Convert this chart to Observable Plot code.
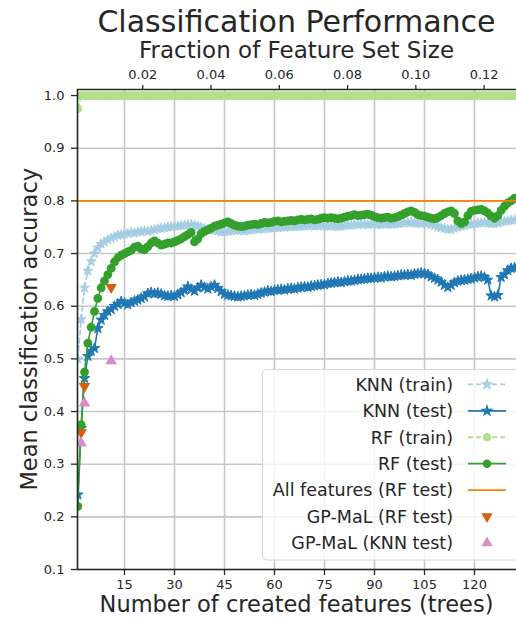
<!DOCTYPE html>
<html><head><meta charset="utf-8">
<script src="https://cdn.jsdelivr.net/npm/d3@7"></script>
<script src="https://cdn.jsdelivr.net/npm/@observablehq/plot@0.6"></script>
<style>
html,body{margin:0;padding:0;background:#fff;}
#fig{position:relative;width:516px;height:620px;overflow:hidden;font-family:"DejaVu Sans",sans-serif;color:#262626;background:#fff;}
.t{position:absolute;white-space:nowrap;line-height:1;}
#plot{position:absolute;left:0;top:62px;}
#legend{position:absolute;left:0;top:0;pointer-events:none;}
</style></head><body><div id="fig"></div>
<script>
// ---- chart data ----
const titleText = "Classification Performance";
const topAxisLabel = "Fraction of Feature Set Size";
const xAxisLabel = "Number of created features (trees)";
const yAxisLabel = "Mean classification accuracy";

const xTicks = [15, 30, 45, 60, 75, 90, 105, 120];
const yTicks = [0.1, 0.2, 0.3, 0.4, 0.5, 0.6, 0.7, 0.8, 0.9, 1.0];
const fracTicks = [0.02, 0.04, 0.06, 0.08, 0.10, 0.12];
const featureSetSize = 1024;
const xDomain = [0.9, 132.6];
const yDomain = [0.1, 1.0115];

const knnTrain = [
  0.500, 0.575, 0.635, 0.667, 0.685, 0.700, 0.711, 0.718, 0.722, 0.726,
  0.729, 0.732, 0.735, 0.736, 0.737, 0.738, 0.740, 0.739, 0.741, 0.742,
  0.743, 0.742, 0.744, 0.745, 0.747, 0.748, 0.749, 0.750, 0.751, 0.752,
  0.752, 0.753, 0.754, 0.755, 0.755, 0.754, 0.752, 0.750, 0.748, 0.746,
  0.745, 0.744, 0.743, 0.741, 0.741, 0.742, 0.743, 0.744, 0.744, 0.744,
  0.743, 0.744, 0.745, 0.746, 0.746, 0.747, 0.747, 0.748, 0.748, 0.749,
  0.749, 0.750, 0.750, 0.751, 0.751, 0.751, 0.752, 0.752, 0.752, 0.753,
  0.753, 0.752, 0.753, 0.753, 0.752, 0.752, 0.753, 0.752, 0.751, 0.752,
  0.753, 0.754, 0.754, 0.755, 0.755, 0.756, 0.756, 0.755, 0.756, 0.756,
  0.755, 0.755, 0.756, 0.756, 0.755, 0.756, 0.757, 0.758, 0.758, 0.759,
  0.759, 0.758, 0.758, 0.757, 0.758, 0.757, 0.755, 0.753, 0.751, 0.749,
  0.748, 0.746, 0.746, 0.748, 0.750, 0.752, 0.753, 0.755, 0.756, 0.757,
  0.758, 0.758, 0.759, 0.758, 0.757, 0.757, 0.758, 0.760, 0.761, 0.762,
  0.763, 0.764, 0.765, 0.765
];
const knnTest = [
  0.242, 0.368, 0.463, 0.505, 0.515, 0.520, 0.558, 0.574, 0.583, 0.590,
  0.594, 0.600, 0.604, 0.609, 0.606, 0.603, 0.607, 0.610, 0.612, 0.615,
  0.618, 0.624, 0.626, 0.624, 0.625, 0.623, 0.620, 0.619, 0.620, 0.619,
  0.622, 0.626, 0.630, 0.637, 0.632, 0.629, 0.635, 0.640, 0.636, 0.633,
  0.637, 0.640, 0.634, 0.628, 0.623, 0.621, 0.620, 0.619, 0.618, 0.619,
  0.620, 0.621, 0.622, 0.621, 0.623, 0.625, 0.627, 0.629, 0.628, 0.630,
  0.631, 0.632, 0.631, 0.633, 0.634, 0.633, 0.635, 0.636, 0.637, 0.636,
  0.638, 0.639, 0.640, 0.641, 0.641, 0.643, 0.644, 0.645, 0.646, 0.645,
  0.647, 0.648, 0.648, 0.649, 0.651, 0.651, 0.652, 0.653, 0.653, 0.654,
  0.655, 0.654, 0.656, 0.657, 0.656, 0.657, 0.658, 0.659, 0.659, 0.660,
  0.659, 0.661, 0.662, 0.663, 0.662, 0.660, 0.656, 0.653, 0.650, 0.646,
  0.640, 0.636, 0.640, 0.645, 0.648, 0.649, 0.650, 0.651, 0.652, 0.654,
  0.656, 0.657, 0.655, 0.650, 0.620, 0.618, 0.621, 0.655, 0.660, 0.668,
  0.672, 0.673, 0.674, 0.674
];
const rfTrain = [
  0.975, 1.0, 1.0, 1.0, 1.0, 1.0, 1.0, 1.0, 1.0, 1.0,
  1.0, 1.0, 1.0, 1.0, 1.0, 1.0, 1.0, 1.0, 1.0, 1.0,
  1.0, 1.0, 1.0, 1.0, 1.0, 1.0, 1.0, 1.0, 1.0, 1.0,
  1.0, 1.0, 1.0, 1.0, 1.0, 1.0, 1.0, 1.0, 1.0, 1.0,
  1.0, 1.0, 1.0, 1.0, 1.0, 1.0, 1.0, 1.0, 1.0, 1.0,
  1.0, 1.0, 1.0, 1.0, 1.0, 1.0, 1.0, 1.0, 1.0, 1.0,
  1.0, 1.0, 1.0, 1.0, 1.0, 1.0, 1.0, 1.0, 1.0, 1.0,
  1.0, 1.0, 1.0, 1.0, 1.0, 1.0, 1.0, 1.0, 1.0, 1.0,
  1.0, 1.0, 1.0, 1.0, 1.0, 1.0, 1.0, 1.0, 1.0, 1.0,
  1.0, 1.0, 1.0, 1.0, 1.0, 1.0, 1.0, 1.0, 1.0, 1.0,
  1.0, 1.0, 1.0, 1.0, 1.0, 1.0, 1.0, 1.0, 1.0, 1.0,
  1.0, 1.0, 1.0, 1.0, 1.0, 1.0, 1.0, 1.0, 1.0, 1.0,
  1.0, 1.0, 1.0, 1.0, 1.0, 1.0, 1.0, 1.0, 1.0, 1.0,
  1.0, 1.0, 1.0, 1.0
];
const rfTest = [
  0.220, 0.375, 0.475, 0.530, 0.560, 0.590, 0.615, 0.635, 0.648, 0.660,
  0.672, 0.684, 0.692, 0.697, 0.700, 0.703, 0.706, 0.712, 0.714, 0.709,
  0.707, 0.713, 0.720, 0.724, 0.720, 0.716, 0.718, 0.720, 0.720, 0.722,
  0.725, 0.728, 0.732, 0.736, 0.740, 0.722, 0.728, 0.738, 0.742, 0.745,
  0.748, 0.752, 0.754, 0.756, 0.758, 0.760, 0.757, 0.754, 0.752, 0.751,
  0.752, 0.754, 0.755, 0.756, 0.755, 0.757, 0.759, 0.758, 0.759, 0.761,
  0.762, 0.760, 0.761, 0.762, 0.763, 0.762, 0.764, 0.765, 0.764, 0.765,
  0.766, 0.764, 0.765, 0.767, 0.768, 0.767, 0.768, 0.767, 0.766, 0.767,
  0.769, 0.771, 0.772, 0.774, 0.772, 0.773, 0.774, 0.775, 0.773, 0.770,
  0.768, 0.767, 0.768, 0.769, 0.767, 0.768, 0.770, 0.773, 0.776, 0.779,
  0.781, 0.778, 0.774, 0.772, 0.771, 0.769, 0.767, 0.766, 0.768, 0.772,
  0.776, 0.779, 0.781, 0.776, 0.762, 0.757, 0.760, 0.772, 0.780, 0.782,
  0.783, 0.784, 0.781, 0.777, 0.771, 0.767, 0.772, 0.782, 0.790, 0.796,
  0.800, 0.805, 0.806, 0.806
];
const allFeaturesRF = 0.8;
const gpmalFeatures = [2, 3, 11];
const gpmalRF = [0.360, 0.448, 0.636];
const gpmalKNN = [0.340, 0.416, 0.496];

const legendLabels = ["KNN (train)", "KNN (test)", "RF (train)", "RF (test)",
  "All features (RF test)", "GP-MaL (RF test)", "GP-MaL (KNN test)"];

const colors = {
  knnTrain: "#a6cee3", knnTest: "#1f78b4", rfTrain: "#b2df8a", rfTest: "#33a02c",
  all: "#ff7f00", gpRF: "#d2600f", gpKNN: "#d98bcb"
};

// ---- build tables ----
const toRows = (vals) => vals.map((v, i) => ({n: i + 1, acc: v}));
const knnTrainRows = toRows(knnTrain);
const knnTestRows = toRows(knnTest);
const rfTrainRows = toRows(rfTrain);
const rfTestRows = toRows(rfTest);
const gpRFRows = gpmalFeatures.map((n, i) => ({n, acc: gpmalRF[i]}));
const gpKNNRows = gpmalFeatures.map((n, i) => ({n, acc: gpmalKNN[i]}));

const triangleDown = {
  draw(context, size) {
    const s3 = Math.sqrt(3);
    const y = -Math.sqrt(size / (s3 * 3));
    context.moveTo(0, -y * 2);
    context.lineTo(-s3 * y, y);
    context.lineTo(s3 * y, y);
    context.closePath();
  }
};

const fig = document.getElementById("fig");
function addText(txt, size, top, left, width) {
  const d = document.createElement("div");
  d.className = "t";
  d.textContent = txt;
  d.style.fontSize = size + "px";
  d.style.top = top + "px";
  d.style.left = left + "px";
  d.style.width = width + "px";
  d.style.textAlign = "center";
  fig.appendChild(d);
  return d;
}
addText(titleText, 30, 6.6, 77, 439);
addText(topAxisLabel, 23, 38.5, 77, 439);

const plot = Plot.plot({
  width: 516,
  height: 558,
  marginTop: 27,
  marginBottom: 51,
  marginLeft: 77,
  marginRight: 0,
  style: {fontFamily: "DejaVu Sans", fontSize: "13px", color: "#262626", background: "transparent"},
  x: {domain: xDomain},
  y: {domain: yDomain},
  marks: [
    Plot.gridX({ticks: xTicks, stroke: "#c6c6c6", strokeOpacity: 1, strokeWidth: 1.6}),
    Plot.gridY({ticks: yTicks, stroke: "#c6c6c6", strokeOpacity: 1, strokeWidth: 1.6}),
    Plot.axisX({anchor: "bottom", ticks: xTicks, tickSize: 6, tickPadding: 4, label: null, strokeWidth: 1.3}),
    Plot.axisX({anchor: "top", ticks: fracTicks.map(f => f * featureSetSize),
      tickFormat: d => (d / featureSetSize).toFixed(2), tickSize: 5, tickPadding: 6, label: null, strokeWidth: 1.3}),
    Plot.axisY({ticks: yTicks, tickFormat: d => d.toFixed(1), tickSize: 6, tickPadding: 7, label: null, strokeWidth: 1.3}),

    Plot.line(knnTrainRows, {x: "n", y: "acc", stroke: colors.knnTrain, strokeWidth: 1.6, strokeDasharray: "5,3", clip: true}),
    Plot.dot(knnTrainRows, {x: "n", y: "acc", fill: colors.knnTrain, stroke: colors.knnTrain, strokeWidth: 1, symbol: "star", r: 3.1, clip: true}),
    Plot.line(knnTestRows, {x: "n", y: "acc", stroke: colors.knnTest, strokeWidth: 1.6, clip: true}),
    Plot.dot(knnTestRows, {x: "n", y: "acc", fill: colors.knnTest, stroke: colors.knnTest, strokeWidth: 1, symbol: "star", r: 3.3, clip: true}),
    Plot.line(rfTrainRows, {x: "n", y: "acc", stroke: colors.rfTrain, strokeWidth: 1.6, strokeDasharray: "5,3", clip: true}),
    Plot.dot(rfTrainRows, {x: "n", y: "acc", fill: colors.rfTrain, r: 4.4, clip: true}),
    Plot.line(rfTestRows, {x: "n", y: "acc", stroke: colors.rfTest, strokeWidth: 1.6, clip: true}),
    Plot.dot(rfTestRows, {x: "n", y: "acc", fill: colors.rfTest, r: 4.4, clip: true}),
    Plot.ruleY([allFeaturesRF], {stroke: colors.all, strokeWidth: 1.8, clip: true}),
    Plot.dot(gpRFRows, {x: "n", y: "acc", fill: colors.gpRF, symbol: triangleDown, r: 4.3, clip: true}),
    Plot.dot(gpKNNRows, {x: "n", y: "acc", fill: colors.gpKNN, symbol: "triangle", r: 4.3, clip: true}),

    Plot.ruleX([xDomain[0]], {stroke: "#262626", strokeWidth: 1.6}),
    Plot.ruleY([yDomain[0]], {stroke: "#262626", strokeWidth: 1.6}),
    Plot.ruleY([yDomain[1]], {stroke: "#262626", strokeWidth: 1.6})
  ]
});
const wrap = document.createElement("div");
wrap.id = "plot";
wrap.appendChild(plot);
fig.appendChild(wrap);

addText(xAxisLabel, 22.5, 593, 77, 439);
const yl = addText(yAxisLabel, 22.5, 329 - 11.25, 29.4 - 240, 480);
yl.style.height = "22.5px";
yl.style.transform = "rotate(-90deg)";
yl.style.transformOrigin = "50% 50%";

// ---- legend ----
const lg = d3.select(fig).append("svg").attr("id", "legend").attr("width", 516).attr("height", 620);
lg.append("rect").attr("x", 262.5).attr("y", 369.5).attr("width", 300).attr("height", 190.5)
  .attr("rx", 4).attr("fill", "white").attr("fill-opacity", 0.8).attr("stroke", "#d4d4d4");
const handles = [
  {line: colors.knnTrain, dash: "5,3", sym: d3.symbolStar, fill: colors.knnTrain},
  {line: colors.knnTest, dash: null, sym: d3.symbolStar, fill: colors.knnTest},
  {line: colors.rfTrain, dash: "5,3", sym: d3.symbolCircle, fill: colors.rfTrain},
  {line: colors.rfTest, dash: null, sym: d3.symbolCircle, fill: colors.rfTest},
  {line: colors.all, dash: null, sym: null},
  {line: null, sym: triangleDown, fill: colors.gpRF},
  {line: null, sym: d3.symbolTriangle, fill: colors.gpKNN}
];
legendLabels.forEach((lab, i) => {
  const base = 390.7 + i * 26.43;
  const cy = base - 6.3;
  lg.append("text").attr("x", 453).attr("y", base).attr("text-anchor", "end")
    .attr("font-family", "DejaVu Sans").attr("font-size", 17.5).attr("fill", "#262626").text(lab);
  const h = handles[i];
  if (h.line) {
    const l = lg.append("line").attr("x1", 468).attr("x2", 506).attr("y1", cy).attr("y2", cy)
      .attr("stroke", h.line).attr("stroke-width", 1.8);
    if (h.dash) l.attr("stroke-dasharray", h.dash);
  }
  if (h.sym) {
    lg.append("path").attr("transform", `translate(487,${cy})`)
      .attr("d", d3.symbol(h.sym, Math.PI * 4.2 * 4.2)()).attr("fill", h.fill);
  }
});
</script></body></html>
